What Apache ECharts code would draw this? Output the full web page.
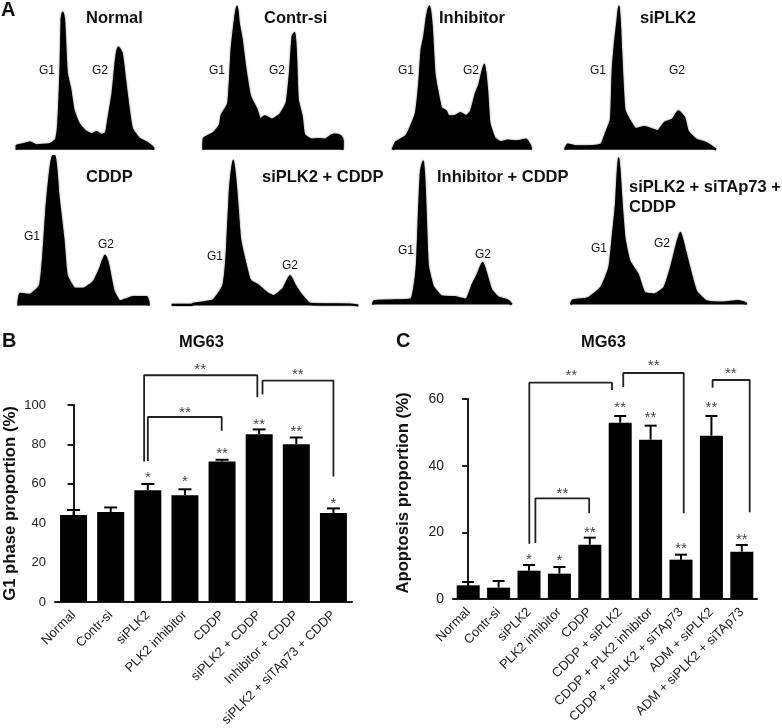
<!DOCTYPE html>
<html>
<head>
<meta charset="utf-8">
<style>
html, body { margin: 0; padding: 0; background: #fff; }
#main { width: 782px; height: 728px; }
</style>
<script src="https://cdn.jsdelivr.net/npm/echarts@6/dist/echarts.min.js"></script>
</head>
<body>
<div id="main"></div>
<script>
// flow cytometry histograms: [channel, count]
var histNormal = [[50,0],[50,12],[70,16],[90,21],[110,13],[150,17],[168,30],[175,80],[182,250],[185,390],[188,411],[192,390],[195,330],[200,230],[210,185],[220,120],[235,80],[255,56],[275,46],[290,53],[305,44],[318,50],[325,90],[338,170],[348,270],[355,307],[365,290],[375,210],[385,130],[395,65],[415,35],[440,21],[460,4],[460,0]];
var histContrSi = [[610,0],[612,34],[640,49],[660,74],[665,104],[685,139],[695,300],[705,390],[711,430],[716,380],[725,330],[735,250],[750,160],[770,120],[780,90],[795,100],[815,90],[840,105],[860,140],[870,230],[878,340],[884,350],[888,280],[893,150],[905,100],[912,45],[935,30],[955,32],[975,30],[1000,45],[1020,42],[1028,30],[1028,0]];
var histInhibitor = [[5,0],[15,22],[45,40],[60,70],[75,110],[85,200],[92,300],[100,340],[108,400],[115,430],[122,370],[130,230],[140,170],[150,125],[165,115],[172,100],[195,102],[208,110],[225,100],[240,115],[255,170],[265,195],[280,255],[288,180],[295,80],[310,35],[330,22],[350,27],[375,25],[405,30],[418,10],[420,0]];
var histSiPLK2 = [[522,0],[530,15],[560,10],[630,15],[645,50],[660,90],[665,230],[672,320],[680,390],[684,430],[690,300],[700,120],[720,80],[735,62],[760,68],[800,55],[820,80],[845,90],[862,115],[880,95],[890,55],[915,30],[945,20],[975,0]];
var histCDDP = [[55,0],[60,35],[90,32],[120,60],[130,150],[140,300],[150,400],[158,449],[165,449],[175,330],[190,200],[200,90],[225,50],[250,50],[280,70],[300,110],[315,150],[325,120],[340,45],[360,12],[400,25],[440,25],[447,0]];
var histSiCDDP = [[515,2],[575,2],[580,5],[640,15],[670,60],[680,150],[690,350],[700,435],[710,330],[720,200],[735,130],[750,75],[775,60],[800,38],[820,28],[850,50],[870,88],[885,60],[905,30],[930,5],[1050,3],[1075,0]];
var histInhCDDP = [[5,0],[10,10],[60,12],[120,15],[130,50],[138,120],[145,300],[150,400],[157,430],[163,300],[170,120],[185,55],[210,25],[250,22],[285,15],[305,60],[320,90],[335,125],[345,95],[360,45],[380,22],[410,12],[422,0]];
var histSiTapCDDP = [[540,0],[545,12],[590,18],[630,50],[655,110],[665,200],[675,300],[683,440],[690,330],[700,200],[715,130],[740,90],[760,35],[790,30],[820,50],[840,110],[855,170],[868,215],[880,170],[895,110],[915,40],[945,10],[1000,6],[1040,10],[1065,3],[1065,0]];

// panel B
var catsB = ['Normal', 'Contr-si', 'siPLK2', 'PLK2 inhibitor', 'CDDP', 'siPLK2 + CDDP', 'Inhibitor + CDDP', 'siPLK2 + siTAp73 + CDDP'];
var valsB = [44.1, 45.7, 56.7, 54.2, 71.3, 85.2, 80.1, 45.2];
var errTopB = [46.7, 48, 59.9, 57.2, 72.2, 87.6, 83.5, 47.5];
var starsB = [[2,65,'*'],[3,63,'*'],[4,77,'**'],[5,92,'**'],[6,88.6,'**'],[7,52,'*'],[3.41,119.7,'**'],[6.04,117.5,'**'],[3,98,'**']];
var bracketsB = [
    [[1.9,71.3],[1.9,115.1],[4.95,115.1],[4.95,103.9]],
    [[2,71.6],[2,93.9],[3.99,93.9],[3.99,86.9]],
    [[5.09,105.3],[5.09,112.4],[7,112.4],[7,63.7]]
];

// panel C
var catsC = ['Normal', 'Contr-si', 'siPLK2', 'PLK2 inhibitor', 'CDDP', 'CDDP + siPLK2', 'CDDP + PLK2 inhibitor', 'CDDP + siPLK2 + siTAp73', 'ADM + siPLK2', 'ADM + siPLK2 + siTAp73'];
var valsC = [4.1, 3.4, 8.5, 7.6, 16.3, 52.9, 47.8, 11.8, 49, 14.2];
var errTopC = [5.1, 5.4, 10.2, 9.6, 18.4, 54.9, 52, 13.3, 54.9, 16.2];
var starsC = [[2,13,'*'],[3,12.5,'*'],[4,20.9,'**'],[5,58.5,'**'],[6,55.5,'**'],[7,16.2,'**'],[8,58.6,'**'],[9,19,'**'],[3.39,68,'**'],[6.1,71,'**'],[8.64,68.6,'**'],[3.1,32.7,'**']];
var bracketsC = [
    [[2.01,16.6],[2.01,64.9],[4.73,64.9],[4.73,62.7]],
    [[2.21,16.8],[2.21,30.2],[3.98,30.2],[3.98,25.7]],
    [[5.1,63.6],[5.1,67.8],[7.09,67.8],[7.09,25.7]],
    [[8.04,63.4],[8.04,65.7],[9.26,65.7],[9.26,26]]
];

var FONT = '"Liberation Sans", Arial, sans-serif';
var INK = '#1a1a1a';

var myChart = echarts.init(document.getElementById('main'), null, { renderer: 'canvas' });

var grid = [], xAxis = [], yAxis = [], series = [], title = [];

function addText(text, left, cy, size, bold, lineHeight) {
    title.push({
        text: text, left: left, top: cy - (lineHeight ? lineHeight : size) / 2, padding: 0,
        textStyle: {
            fontFamily: FONT, fontSize: size, color: '#111',
            fontWeight: bold ? 'bold' : 'normal',
            lineHeight: lineHeight || size
        }
    });
}

// --- panel A, one grid per histogram, x scale is 3 channels per px
var panels = [
    { data: histNormal, left: 0, base: 149.7, h: 149.7, ymax: 449 },
    { data: histContrSi, left: 0, base: 149.7, h: 149.7, ymax: 449 },
    { data: histInhibitor, left: 391, base: 149.7, h: 149.7, ymax: 449 },
    { data: histSiPLK2, left: 391, base: 149.7, h: 149.7, ymax: 449 },
    { data: histCDDP, left: 0, base: 305.5, h: 155.5, ymax: 467 },
    { data: histSiCDDP, left: 0, base: 305.5, h: 155.5, ymax: 467 },
    { data: histInhCDDP, left: 371, base: 304.5, h: 154.5, ymax: 464 },
    { data: histSiTapCDDP, left: 391, base: 304.5, h: 154.5, ymax: 464 }
];
panels.forEach(function (p, i) {
    grid.push({ left: p.left, top: p.base - p.h, width: 391, height: p.h, outerBoundsMode: 'none' });
    xAxis.push({ type: 'value', gridIndex: i, min: 0, max: 1173, show: false });
    yAxis.push({ type: 'value', gridIndex: i, min: 0, max: p.ymax, show: false });
    series.push({
        type: 'line', xAxisIndex: i, yAxisIndex: i, data: p.data, clip: false,
        showSymbol: false, smooth: 0.15, animation: false,
        lineStyle: { color: '#000', width: 2.2, join: 'round', shadowBlur: 2, shadowColor: 'rgba(0,0,0,0.6)' },
        areaStyle: { color: '#000', opacity: 1 }
    });
});

addText('A', 1, 10, 20, true);
addText('Normal', 86, 18, 16.5, true);
addText('Contr-si', 264, 18, 16.5, true);
addText('Inhibitor', 439, 18, 16.5, true);
addText('siPLK2', 640, 18, 16.5, true);
addText('CDDP', 86, 177, 16.5, true);
addText('siPLK2 + CDDP', 262, 177, 16.5, true);
addText('Inhibitor + CDDP', 437, 177, 16.5, true);
addText('siPLK2 + siTAp73 +\nCDDP', 629, 187, 16.5, true, 20);
// G1 / G2 peak labels
[[39,71,92,71],[209,71,269,71],[398,71,463,71],[590,71,669,71],[24,237,98,245],[207,257,282,266],[398,251,475,255],[591,249,654,244]].forEach(function (g) {
    addText('G1', g[0], g[1], 12);
    addText('G2', g[2], g[3], 12);
});

// --- bar panels
function barPanel(o) {
    var gi = grid.length;
    var n = o.cats.length;
    // outerBounds off, the long rotated labels must not shrink the grid
    grid.push({ left: o.left, top: o.top, width: o.width, height: o.height, outerBoundsMode: 'none' });
    // category axis for the bars, hidden value axis on the same band positions for the annotations
    xAxis.push({
        type: 'category', gridIndex: gi, data: o.cats,
        axisLine: { lineStyle: { color: INK, width: 2 } },
        axisTick: { alignWithLabel: true, length: 4, lineStyle: { color: INK, width: 2 } },
        axisLabel: { rotate: 45, interval: 0, margin: 11, fontFamily: FONT, fontSize: o.catSize, color: '#222' }
    });
    var xVal = xAxis.length;
    xAxis.push({ type: 'value', gridIndex: gi, min: -0.5, max: n - 0.5, show: false });
    var yi = yAxis.length;
    yAxis.push({
        type: 'value', gridIndex: gi, min: 0, max: o.max, interval: o.step,
        name: o.yName, nameLocation: 'middle', nameGap: o.nameGap,
        nameTextStyle: { fontFamily: FONT, fontSize: o.nameSize, fontWeight: 'bold', color: '#111', padding: o.namePad },
        splitLine: { show: false },
        axisLine: { show: true, lineStyle: { color: INK, width: 2 } },
        axisTick: { show: true, length: 6, lineStyle: { color: INK, width: 2 } },
        axisLabel: { margin: 9, fontFamily: FONT, fontSize: o.tickSize, color: '#222' }
    });
    series.push({
        type: 'bar', xAxisIndex: xVal - 1, yAxisIndex: yi, data: o.vals,
        barWidth: o.barWidth, itemStyle: { color: '#000' }, animation: false
    });
    // upper error bars
    series.push({
        type: 'custom', xAxisIndex: xVal, yAxisIndex: yi, animation: false, z: 1,
        data: o.errTop.map(function (t, i) { return [i, o.vals[i], t]; }),
        renderItem: function (params, api) {
            var a = api.coord([api.value(0), api.value(1)]);
            var b = api.coord([api.value(0), api.value(2)]);
            return {
                type: 'group',
                children: [
                    { type: 'line', shape: { x1: a[0], y1: a[1], x2: b[0], y2: b[1] }, style: { stroke: '#000', lineWidth: 2 } },
                    { type: 'line', shape: { x1: b[0] - o.cap, y1: b[1], x2: b[0] + o.cap, y2: b[1] }, style: { stroke: '#000', lineWidth: 2 } }
                ]
            };
        }
    });
    o.brackets.forEach(function (b) {
        series.push({
            type: 'line', xAxisIndex: xVal, yAxisIndex: yi, data: b, clip: false,
            showSymbol: false, animation: false, lineStyle: { color: '#222', width: 1.8 }
        });
    });
    series.push({
        type: 'scatter', xAxisIndex: xVal, yAxisIndex: yi, clip: false, animation: false,
        symbolSize: 0, data: o.stars,
        label: {
            show: true, position: 'inside', offset: [0, 4], fontFamily: FONT, fontSize: 15, color: '#111',
            formatter: function (p) { return p.data[2]; }
        }
    });
}

barPanel({
    cats: catsB, vals: valsB, errTop: errTopB, stars: starsB, brackets: bracketsB,
    left: 55, top: 405, width: 297, height: 197, max: 100, step: 20,
    yName: 'G1 phase proportion (%)', nameGap: 36, nameSize: 16.7, namePad: 0,
    tickSize: 13, catSize: 13, barWidth: 27, cap: 6.5
});
barPanel({
    cats: catsC, vals: valsC, errTop: errTopC, stars: starsC, brackets: bracketsC,
    left: 453, top: 399, width: 304, height: 200, max: 60, step: 20,
    yName: 'Apoptosis proportion (%)', nameGap: 41, nameSize: 16.7, namePad: [0, 0, 0, 12],
    tickSize: 14, catSize: 13, barWidth: 23, cap: 6
});

addText('B', 2, 341, 20, true);
addText('MG63', 179, 342, 16.5, true);
addText('C', 396, 341, 20, true);
addText('MG63', 581, 342, 16.5, true);

myChart.setOption({
    backgroundColor: '#fff',
    animation: false,
    title: title,
    grid: grid,
    xAxis: xAxis,
    yAxis: yAxis,
    series: series
});
</script>
</body>
</html>
